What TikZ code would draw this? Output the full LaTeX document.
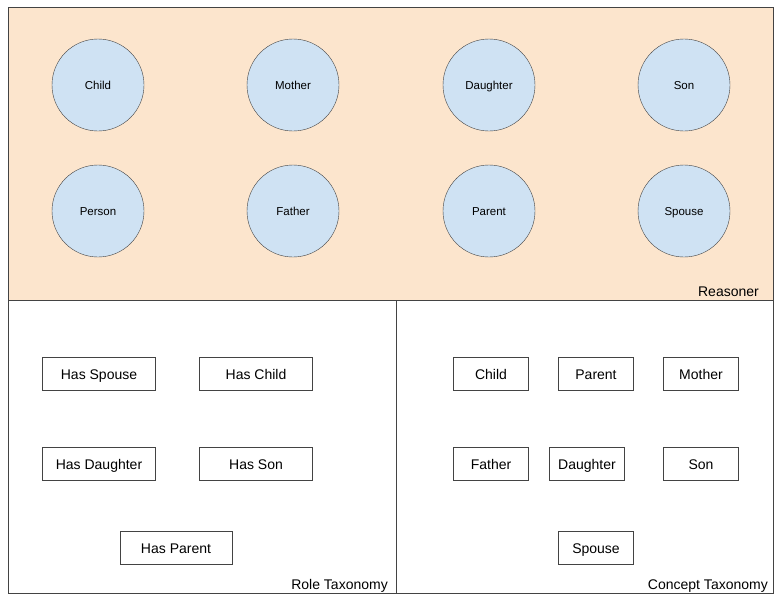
\documentclass[tikz,border=0pt]{standalone}
\usepackage{fontspec}
\setmainfont{Liberation Sans}
\usetikzlibrary{calc}

\definecolor{peach}{HTML}{FCE5CD}
\definecolor{pale}{HTML}{CFE2F3}
\definecolor{edge}{HTML}{434343}

\begin{document}
\begin{tikzpicture}[x=1pt, y=-1pt,
    concept/.style={circle, draw=edge, fill=pale, minimum size=92pt, inner sep=0pt, text height=9pt, text depth=1pt, font=\fontsize{11.5}{13}\selectfont},
    term/.style={draw=edge, minimum height=33pt, inner sep=0pt, text height=12pt, text depth=1pt, font=\fontsize{14}{16}\selectfont},
    panel/.style={font=\fontsize{14}{16}\selectfont, inner sep=0pt, anchor=base east}]
    \def\L{8} \def\T{7} \def\R{773} \def\B{593}
    \def\H{300} \def\V{396}
    \useasboundingbox (0, 0) rectangle (775, 594);

    \fill[peach] (\L, \T) rectangle (\R, \H);
    \draw[edge] (\L, \T) rectangle (\R, \B);
    \draw[edge] (\L, \H) -- (\R, \H);
    \draw[edge] (\V, \H) -- (\V, \B);

    % reasoner
    \node[concept] (rChild) at (98, 85) {Child};
    \node[concept] (rMother) at (293, 85) {Mother};
    \node[concept] (rDaughter) at (489, 85) {Daughter};
    \node[concept] (rSon) at (684, 85) {Son};
    \node[concept] (rPerson) at (98, 211) {Person};
    \node[concept] (rFather) at (293, 211) {Father};
    \node[concept] (rParent) at (489, 211) {Parent};
    \node[concept] (rSpouse) at (684, 211) {Spouse};
    \node[panel] (reasoner) at (759, 296) {Reasoner};

    % role taxonomy
    \node[term, minimum width=113pt] (hasSpouse) at (99, 374) {Has Spouse};
    \node[term, minimum width=113pt] (hasChild) at (256, 374) {Has Child};
    \node[term, minimum width=113pt] (hasDaughter) at (99, 464) {Has Daughter};
    \node[term, minimum width=113pt] (hasSon) at (256, 464) {Has Son};
    \node[term, minimum width=112pt] (hasParent) at (176, 548) {Has Parent};
    \node[panel] (role) at (388, 589) {Role Taxonomy};

    % concept taxonomy
    \node[term, minimum width=75pt] (cChild) at (491, 374) {Child};
    \node[term, minimum width=75pt] (cParent) at (596, 374) {Parent};
    \node[term, minimum width=75pt] (cMother) at (701, 374) {Mother};
    \node[term, minimum width=75pt] (cFather) at (491, 464) {Father};
    \node[term, minimum width=75pt] (cDaughter) at (587, 464) {Daughter};
    \node[term, minimum width=75pt] (cSon) at (701, 464) {Son};
    \node[term, minimum width=75pt] (cSpouse) at (596, 548) {Spouse};
    \node[panel] (concepts) at (768, 589) {Concept Taxonomy};
\end{tikzpicture}
\end{document}
